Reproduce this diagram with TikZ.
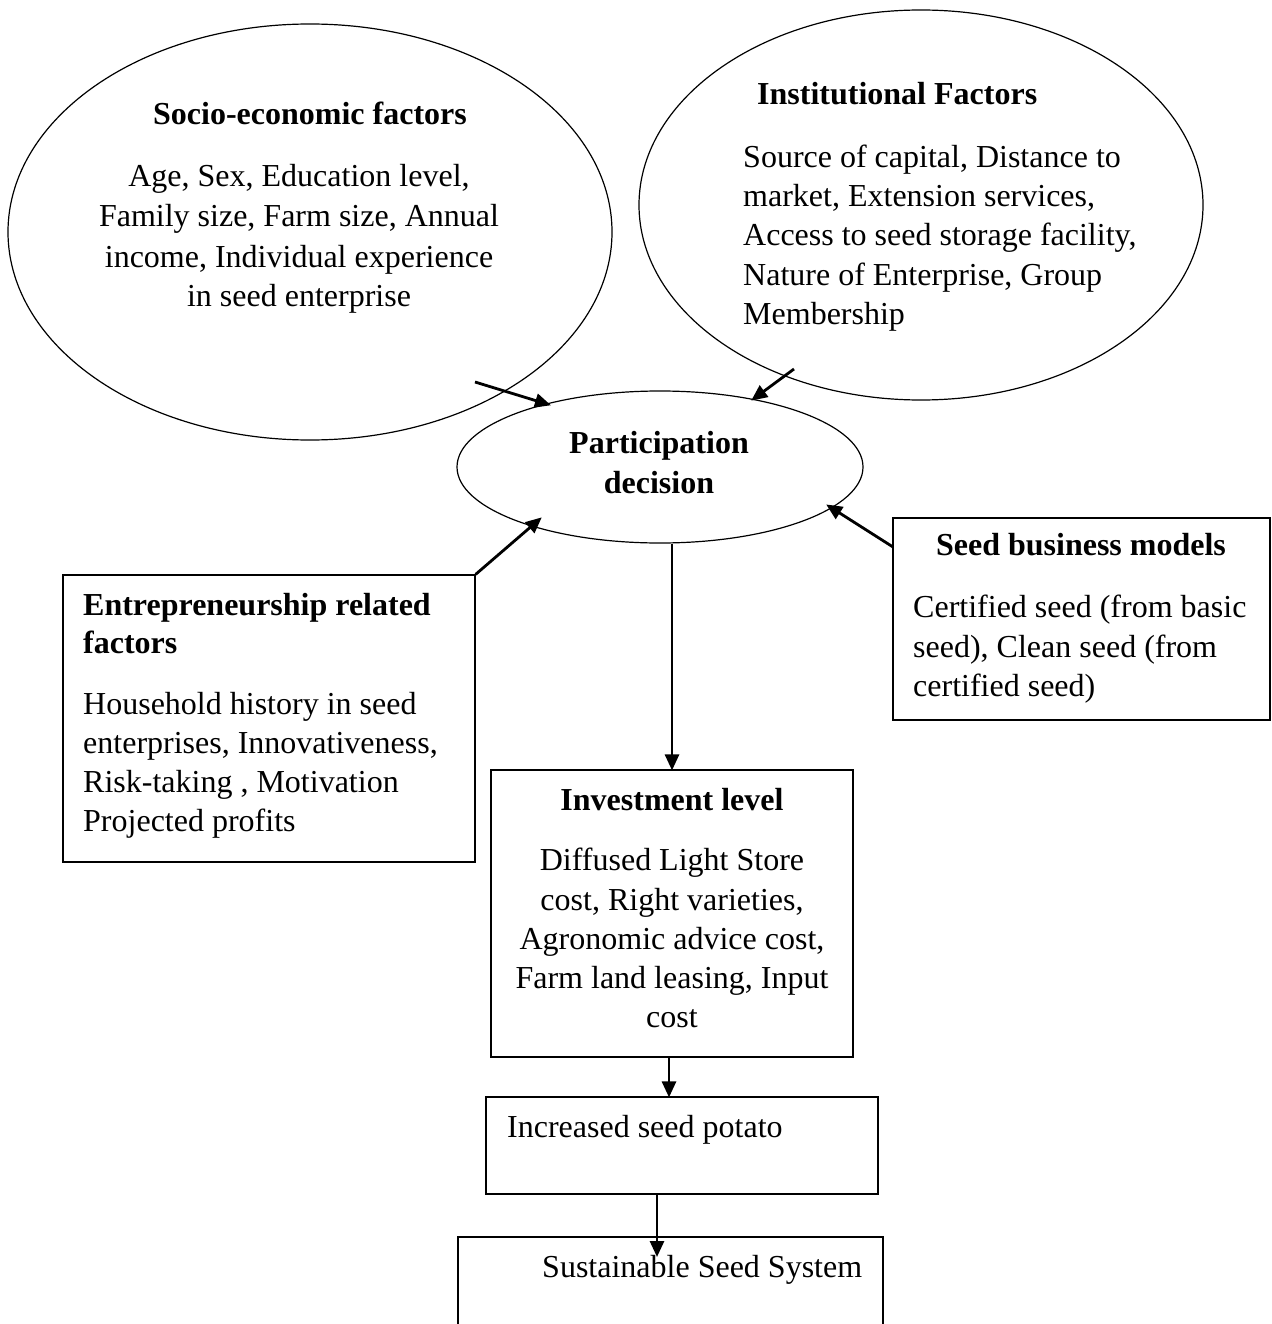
\documentclass[tikz,border=0pt]{standalone}
\usepackage{fontspec}
\setmainfont{Liberation Serif}
\usetikzlibrary{shapes.geometric,arrows.meta}
\tikzset{
  shapeline/.style={draw=black, line width=1.2pt},
  oval/.style={shapeline, ellipse, inner sep=0pt},
  box/.style={shapeline, rectangle, inner sep=0pt},
  txt/.style={inner sep=0pt, font=\fontsize{32}{39}\selectfont},
  btxt/.style={txt, font=\fontsize{32}{39}\selectfont\bfseries},
  arr/.style={line width=2.8pt, -{Triangle[length=16pt,width=14pt]}, shorten >=-1pt}
}
\begin{document}
\begin{tikzpicture}[x=1pt,y=-1pt]
\clip (0,0) rectangle (1271,1324);
\fill[white] (0,0) rectangle (1271,1324);

% shapes
\node[oval, minimum width=604, minimum height=416] (se) at (310,232) {};
\node[oval, minimum width=564, minimum height=390] (inst) at (921,205) {};
\node[oval, minimum width=406, minimum height=152] (pd) at (660,467) {};
\node[box, minimum width=412, minimum height=287] (ent) at (269,718.5) {};
\node[box, minimum width=377, minimum height=202] (sbm) at (1081.5,619) {};
\node[box, minimum width=362, minimum height=287] (inv) at (672,913.5) {};
\node[box, minimum width=392, minimum height=97] (inc) at (682,1145.5) {};
\node[box, minimum width=425, minimum height=103] (sus) at (670.5,1288.5) {};

% socio-economic
\node[btxt, anchor=base] (se0) at (310,125) {Socio-economic factors};
\node[txt, anchor=base] (se1) at (299,187) {Age, Sex, Education level,};
\node[txt, anchor=base] (se2) at (299,227) {Family size, Farm size, Annual};
\node[txt, anchor=base] (se3) at (299,267) {income, Individual experience};
\node[txt, anchor=base] (se4) at (299,306) {in seed enterprise};

% institutional
\node[btxt, anchor=base west] (in0) at (757,105) {Institutional Factors};
\node[txt, anchor=base west] (in1) at (743,168) {Source of capital, Distance to};
\node[txt, anchor=base west] (in2) at (743,207) {market, Extension services,};
\node[txt, anchor=base west] (in3) at (743,246) {Access to seed storage facility,};
\node[txt, anchor=base west] (in4) at (743,285) {Nature of Enterprise, Group};
\node[txt, anchor=base west] (in5) at (743,324) {Membership};

% participation
\node[btxt, anchor=base] (pd1) at (659,453) {Participation};
\node[btxt, anchor=base] (pd2) at (659,493) {decision};

% entrepreneurship
\node[btxt, anchor=base west] (en0) at (83,615) {Entrepreneurship related};
\node[btxt, anchor=base west] (en1) at (83,653) {factors};
\node[txt, anchor=base west] (en2) at (83,714) {Household history in seed};
\node[txt, anchor=base west] (en3) at (83,753) {enterprises, Innovativeness,};
\node[txt, anchor=base west] (en4) at (83,792) {Risk-taking , Motivation};
\node[txt, anchor=base west] (en5) at (83,831) {Projected profits};

% seed business models
\node[btxt, anchor=base] (sb0) at (1081,555) {Seed business models};
\node[txt, anchor=base west] (sb1) at (913,617) {Certified seed (from basic};
\node[txt, anchor=base west] (sb2) at (913,657) {seed), Clean seed (from};
\node[txt, anchor=base west] (sb3) at (913,696) {certified seed)};

% investment
\node[btxt, anchor=base] (iv0) at (672,810) {Investment level};
\node[txt, anchor=base] (iv1) at (672,870) {Diffused Light Store};
\node[txt, anchor=base] (iv2) at (672,910) {cost, Right varieties,};
\node[txt, anchor=base] (iv3) at (672,949) {Agronomic advice cost,};
\node[txt, anchor=base] (iv4) at (672,988) {Farm land leasing, Input};
\node[txt, anchor=base] (iv5) at (672,1027) {cost};

% outcomes
\node[txt, anchor=base west] (ic0) at (507,1137) {Increased seed potato};
\node[txt, anchor=base west] (ss0) at (542,1277) {Sustainable Seed System};

% connector end points
\coordinate (a1s) at (475,382);
\coordinate (a1e) at (550,405);
\coordinate (a2s) at (794,369);
\coordinate (a2e) at (752,400);
\coordinate (a3e) at (541,518);
\coordinate (a4s) at (893,547);
\coordinate (a4e) at (827,505);
\coordinate (a7s) at (657,1194);
\coordinate (a7e) at (657,1256);

\draw[arr] (a1s) -- (a1e);
\draw[arr] (a2s) -- (a2e);
\draw[arr] (ent.north east) -- (a3e);
\draw[arr] (a4s) -- (a4e);
\draw[arr] (pd.south -| inv.north) -- (inv.north);
\draw[arr] ([xshift=-3pt]inv.south) -- ([xshift=-3pt]inv.south |- inc.north);
\draw[arr] (a7s) -- (a7e);
\end{tikzpicture}
\end{document}
